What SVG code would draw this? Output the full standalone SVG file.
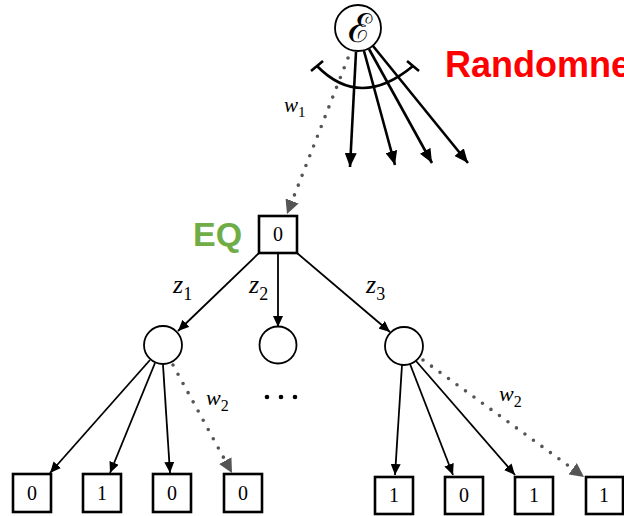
<svg xmlns="http://www.w3.org/2000/svg" width="624" height="516" viewBox="0 0 624 516">
<style>
.edge{stroke:#000;stroke-width:1.8;fill:none;marker-end:url(#ah)}
.fan{stroke:#000;stroke-width:2.6;fill:none;marker-end:url(#ahb)}
.dot{stroke:#555;stroke-width:3.6;stroke-linecap:round;stroke-dasharray:0 10.5;fill:none;marker-end:url(#gh)}
.box{fill:#fff;stroke:#000;stroke-width:2.6}
.circ{fill:#fff;stroke:#000;stroke-width:1.8}
.val{font-family:"Liberation Serif",serif;font-size:20px;text-anchor:middle}
.var{font-family:"Liberation Serif",serif;font-style:italic}
.sub{font-family:"Liberation Serif",serif;font-style:normal}
</style>
<defs>
<marker id="ah" markerUnits="userSpaceOnUse" markerWidth="12" markerHeight="10" refX="11" refY="5" orient="auto"><path d="M0,0 L11,5 L0,10 z" fill="#000"/></marker>
<marker id="ahb" markerUnits="userSpaceOnUse" markerWidth="15" markerHeight="12" refX="14" refY="6" orient="auto"><path d="M0,0 L14,6 L0,12 z" fill="#000"/></marker>
<marker id="gh" markerUnits="userSpaceOnUse" markerWidth="15" markerHeight="14" refX="14" refY="7" orient="auto"><path d="M0,0 L14,7 L0,14 z" fill="#555"/></marker>
</defs>
<rect width="624" height="516" fill="#fff"/>
<g id="connectors">
<line class="fan" x1="356" y1="52" x2="350" y2="167"/>
<line class="fan" x1="364" y1="51" x2="395" y2="165"/>
<line class="fan" x1="369" y1="49" x2="432" y2="163"/>
<line class="fan" x1="373" y1="46" x2="468" y2="163"/>
<path d="M317 66 Q360 110 413 66" fill="none" stroke="#000" stroke-width="2.6"/>
<line x1="311" y1="71" x2="323" y2="61" stroke="#000" stroke-width="2.6"/>
<line x1="407" y1="61" x2="419" y2="71" stroke="#000" stroke-width="2.6"/>
<line class="dot" x1="348" y1="58" x2="287" y2="214"/>
<line class="edge" x1="259" y1="253" x2="178" y2="331"/>
<line class="edge" x1="278" y1="253" x2="278" y2="327"/>
<line class="edge" x1="297" y1="253" x2="390" y2="332"/>
<line class="edge" x1="150" y1="360" x2="50" y2="473"/>
<line class="edge" x1="155" y1="363" x2="110" y2="473"/>
<line class="edge" x1="163" y1="365" x2="170" y2="473"/>
<line class="dot" x1="173" y1="365" x2="232" y2="473"/>
<line class="edge" x1="402" y1="365" x2="395" y2="475"/>
<line class="edge" x1="410" y1="364" x2="453" y2="475"/>
<line class="edge" x1="416" y1="361" x2="515" y2="475"/>
<line class="dot" x1="423" y1="360" x2="584" y2="477"/>
</g>
<g id="eps"><circle class="circ" cx="358" cy="28" r="23"/><text x="360" y="42" font-family="DejaVu Serif,serif" font-size="40" text-anchor="middle">ℰ</text></g>
<g id="randomness"><text x="445" y="77" font-family="Liberation Sans,sans-serif" font-weight="bold" font-size="36" fill="#ff0000">Randomne</text></g>
<g id="eq"><text x="193" y="246" font-family="Liberation Sans,sans-serif" font-weight="bold" font-size="34" fill="#70AD47">EQ</text></g>
<g id="root"><rect class="box" x="259" y="216" width="38" height="37"/><text class="val" x="278" y="241">0</text></g>
<g id="labels">
<text class="var" x="284" y="112" font-size="21">w<tspan class="sub" font-size="15" dy="5">1</tspan></text>
<text class="var" x="173" y="293" font-size="26">z<tspan class="sub" font-size="18" dy="7">1</tspan></text>
<text class="var" x="249" y="293" font-size="26">z<tspan class="sub" font-size="18" dy="7">2</tspan></text>
<text class="var" x="366" y="293" font-size="26">z<tspan class="sub" font-size="18" dy="7">3</tspan></text>
<text class="var" x="206" y="405" font-size="22">w<tspan class="sub" font-size="16" dy="6">2</tspan></text>
<text class="var" x="499" y="401" font-size="22">w<tspan class="sub" font-size="16" dy="6">2</tspan></text>
</g>
<g id="c1"><circle class="circ" cx="163" cy="345" r="19"/></g>
<g id="c2"><circle class="circ" cx="278" cy="345" r="18.5"/></g>
<g id="c3"><circle class="circ" cx="404" cy="346" r="19"/></g>
<g id="ellipsis" fill="#000"><circle cx="267" cy="397" r="2.3"/><circle cx="281" cy="397" r="2.3"/><circle cx="295" cy="397" r="2.3"/></g>
<g id="l1"><rect class="box" x="13" y="474" width="38" height="38"/><text class="val" x="32" y="500">0</text></g>
<g id="l2"><rect class="box" x="83" y="474" width="38" height="38"/><text class="val" x="102" y="500">1</text></g>
<g id="l3"><rect class="box" x="153" y="474" width="38" height="38"/><text class="val" x="172" y="500">0</text></g>
<g id="l4"><rect class="box" x="224" y="474" width="38" height="38"/><text class="val" x="243" y="500">0</text></g>
<g id="r1"><rect class="box" x="375" y="477" width="38" height="37"/><text class="val" x="394" y="502">1</text></g>
<g id="r2"><rect class="box" x="445" y="477" width="38" height="37"/><text class="val" x="464" y="502">0</text></g>
<g id="r3"><rect class="box" x="515" y="477" width="38" height="37"/><text class="val" x="534" y="502">1</text></g>
<g id="r4"><rect class="box" x="586" y="477" width="37" height="37"/><text class="val" x="604" y="502">1</text></g>
</svg>
